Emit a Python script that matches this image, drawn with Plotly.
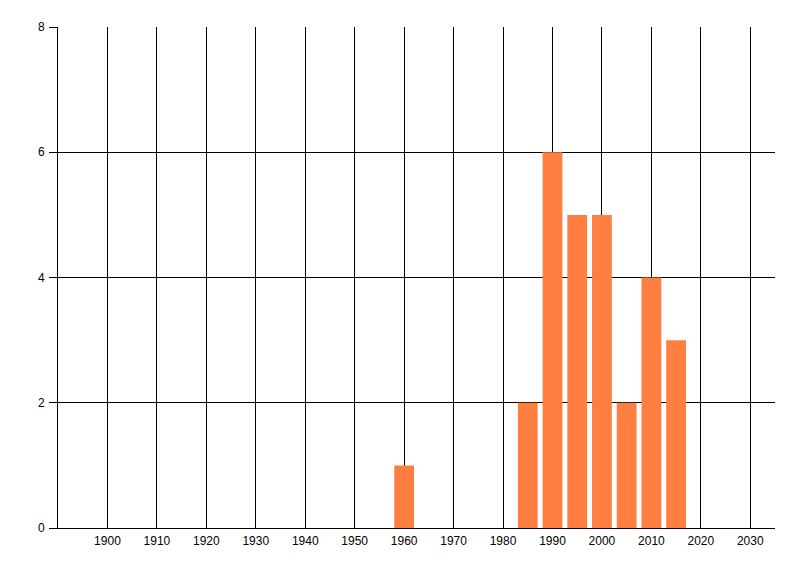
import plotly.graph_objects as go

# values
years = [1960, 1985, 1990, 1995, 2000, 2005, 2010, 2015]
counts = [1, 2, 6, 5, 5, 2, 4, 3]
x_ticks = list(range(1900, 2031, 10))
y_ticks = [0, 2, 4, 6, 8]

bar_color = "#FF7F40"

fig = go.Figure()
fig.add_trace(go.Bar(
    x=years,
    y=counts,
    width=4,
    marker=dict(color=bar_color, line=dict(width=0)),
    hoverinfo="x+y",
))

# the page body adds 8px on the top/left, so margins are set to land
# the plot area where the reference has it
fig.update_layout(
    width=800,
    height=576,
    margin=dict(l=50, r=33, t=19, b=56),
    paper_bgcolor="white",
    plot_bgcolor="white",
    showlegend=False,
    font=dict(family="Liberation Sans, Arial, sans-serif", size=12, color="black"),
)

fig.update_xaxes(
    range=[1890, 2035],
    tickvals=x_ticks,
    ticktext=[str(v) for v in x_ticks],
    showgrid=True,
    gridcolor="black",
    gridwidth=1,
    showline=True,
    linecolor="black",
    linewidth=1,
    ticks="",
    ticklabelstandoff=2,
    zeroline=False,
)

fig.update_yaxes(
    range=[0, 8],
    tickvals=y_ticks,
    showgrid=True,
    gridcolor="black",
    gridwidth=1,
    showline=True,
    linecolor="black",
    linewidth=1,
    ticks="outside",
    ticklen=8,
    tickcolor="black",
    tickwidth=1,
    ticklabelstandoff=2,
    zeroline=False,
)

fig.write_html("out.html")
